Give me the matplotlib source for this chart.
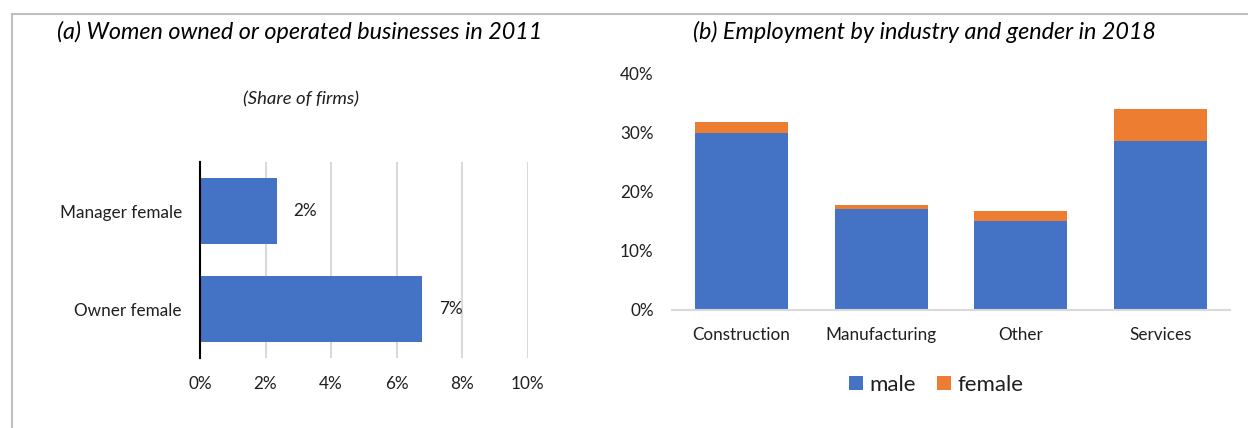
import matplotlib.pyplot as plt
from matplotlib.lines import Line2D
from matplotlib.ticker import PercentFormatter

plt.rcParams['font.family'] = ['Lato', 'DejaVu Sans']

# (a) share of firms
roles = ["Owner female", "Manager female"]
firm_share = [0.0678, 0.0234]

# (b) employment shares by industry
industries = ["Construction", "Manufacturing", "Other", "Services"]
male = [0.299, 0.171, 0.151, 0.286]
female = [0.018, 0.006, 0.016, 0.053]

blue = "#4472C4"
orange = "#ED7D31"
grid_grey = "#d9d9d9"
text_col = "#1f1f1f"

W, H = 1248, 428
fig = plt.figure(figsize=(W / 100, H / 100), dpi=100)

def px_axes(x0, y0, x1, y1):
    return fig.add_axes([x0 / W, 1 - y1 / H, (x1 - x0) / W, (y1 - y0) / H])

# frame around the panels
fig.add_artist(Line2D([12 / W, 12 / W], [0, 1 - 14 / H], color="#bfbfbf", lw=1.5))
fig.add_artist(Line2D([12 / W, 1], [1 - 14 / H, 1 - 14 / H], color="#bfbfbf", lw=1.5))

# ---- left panel ----
ax1 = px_axes(200, 162, 527.5, 358)
bars = ax1.barh(range(len(roles)), firm_share, height=0.667, color=blue, zorder=3)
ax1.set_xlim(0, 0.10)
ax1.set_ylim(-0.5, len(roles) - 0.5)
ax1.set_xticks([0, 0.02, 0.04, 0.06, 0.08, 0.10])
ax1.xaxis.set_major_formatter(PercentFormatter(1.0, decimals=0))
ax1.set_yticks(range(len(roles)))
ax1.set_yticklabels(roles)
ax1.grid(axis="x", color=grid_grey, lw=1.5, zorder=0)
for s in ["top", "right", "bottom"]:
    ax1.spines[s].set_visible(False)
ax1.spines["left"].set_color("black")
ax1.spines["left"].set_linewidth(1.5)
ax1.spines["left"].set_zorder(4)
ax1.tick_params(length=0, labelsize=12.3, colors=text_col)
ax1.tick_params(axis="x", pad=13)
ax1.tick_params(axis="y", pad=13)
ax1.bar_label(bars, labels=[f"{v:.0%}" for v in firm_share], padding=12,
              fontsize=12.3, color=text_col)

fig.text(300 / W, 1 - 31.7 / H, "(a) Women owned or operated businesses in 2011",
         ha="center", va="center", style="italic", fontsize=16.8, color="black")
fig.text(301 / W, 1 - 99.5 / H, "(Share of firms)", ha="center", va="center",
         style="italic", fontsize=13.3, color=text_col)

# ---- right panel ----
ax2 = px_axes(671.7, 73, 1230, 310)
x = range(len(industries))
ax2.bar(x, male, width=0.667, color=blue, label="male")
ax2.bar(x, female, width=0.667, bottom=male, color=orange, label="female")
ax2.set_xlim(-0.5, len(industries) - 0.5)
ax2.set_ylim(0, 0.40)
ax2.set_yticks([0, 0.1, 0.2, 0.3, 0.4])
ax2.yaxis.set_major_formatter(PercentFormatter(1.0, decimals=0))
ax2.set_xticks(list(x))
ax2.set_xticklabels(industries)
for s in ["top", "right", "left"]:
    ax2.spines[s].set_visible(False)
ax2.spines["bottom"].set_color(grid_grey)
ax2.spines["bottom"].set_linewidth(1.5)
ax2.tick_params(length=0, labelsize=12.3, colors=text_col)
ax2.tick_params(axis="y", pad=13)
ax2.tick_params(axis="x", pad=12.5)

fig.text(924 / W, 1 - 31.7 / H, "(b) Employment by industry and gender in 2018",
         ha="center", va="center", style="italic", fontsize=16.8, color="black")

fig.legend(loc="center", bbox_to_anchor=(936 / W, 1 - 385 / H), ncol=2,
           frameon=False, fontsize=16, handlelength=0.62, handleheight=0.62,
           handletextpad=0.3, columnspacing=0.95, labelcolor=text_col)

fig.savefig("out.png", dpi=100)
